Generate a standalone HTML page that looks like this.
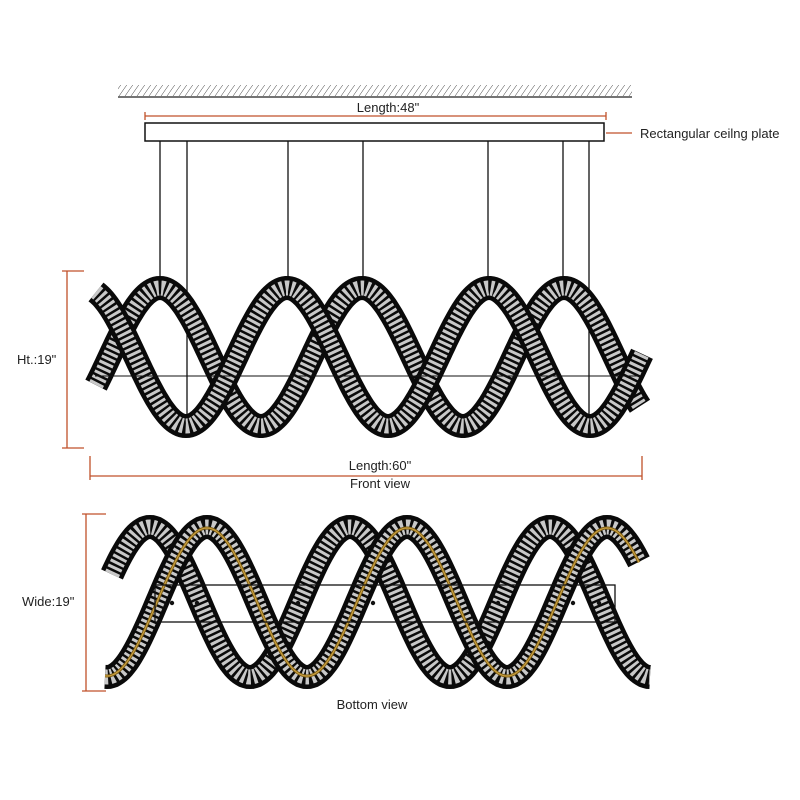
<!DOCTYPE html>
<html><head><meta charset="utf-8"><style>
html,body{margin:0;padding:0;background:#fff;}
svg{display:block;}
text{font-family:"Liberation Sans",sans-serif;font-size:13px;fill:#222;}
</style></head><body>
<svg id="s" width="800" height="800" viewBox="0 0 800 800" xmlns="http://www.w3.org/2000/svg">
<defs>
<pattern id="h" width="6" height="12" patternUnits="userSpaceOnUse" patternTransform="skewX(-35)">
<line x1="0" y1="0" x2="0" y2="12" stroke="#333" stroke-width="1"/></pattern>
</defs>
<rect x="118" y="85" width="514" height="11" fill="url(#h)"/>
<line x1="118" y1="97" x2="632" y2="97" stroke="#222" stroke-width="1.2"/>
<g stroke="#c0502a" stroke-width="1.3" fill="none">
<line x1="145" y1="116" x2="606" y2="116"/>
<line x1="145" y1="112" x2="145" y2="120"/><line x1="606" y1="112" x2="606" y2="120"/>
<line x1="606" y1="133" x2="632" y2="133"/>
<line x1="67" y1="271" x2="67" y2="448"/>
<line x1="62" y1="271" x2="84" y2="271"/><line x1="62" y1="448" x2="84" y2="448"/>
<line x1="90" y1="476" x2="642" y2="476"/>
<line x1="90" y1="456" x2="90" y2="480"/><line x1="642" y1="456" x2="642" y2="480"/>
<line x1="86" y1="514" x2="86" y2="691"/>
<line x1="82" y1="514" x2="106" y2="514"/><line x1="82" y1="691" x2="106" y2="691"/>
</g>
<text x="388" y="112" text-anchor="middle">Length:48"</text>
<text x="640" y="138">Rectangular ceilng plate</text>
<text x="17" y="364">Ht.:19"</text>
<text x="380" y="470" text-anchor="middle">Length:60"</text>
<text x="380" y="488" text-anchor="middle">Front view</text>
<text x="22" y="606">Wide:19"</text>
<text x="372" y="709" text-anchor="middle">Bottom view</text>
<rect x="145" y="123" width="459" height="18" fill="#fff" stroke="#111" stroke-width="1.5"/>
<g stroke="#111" stroke-width="1.3">
<line x1="160" y1="141" x2="160" y2="278"/><line x1="187" y1="141" x2="187" y2="430"/>
<line x1="288" y1="141" x2="288" y2="278"/><line x1="363" y1="141" x2="363" y2="278"/>
<line x1="488" y1="141" x2="488" y2="278"/><line x1="563" y1="141" x2="563" y2="278"/>
<line x1="589" y1="141" x2="589" y2="430"/>
</g>
<g id="bands"></g>
<line x1="95" y1="376" x2="640" y2="376" stroke="#111" stroke-width="1"/>
<rect x="155" y="585" width="460" height="37" fill="none" stroke="#111" stroke-width="1.3"/>
<g fill="#111"><circle cx="172" cy="603" r="2.2"/><circle cx="197" cy="603" r="2.2"/><circle cx="298" cy="603" r="2.2"/><circle cx="373" cy="603" r="2.2"/><circle cx="498" cy="603" r="2.2"/><circle cx="573" cy="603" r="2.2"/><circle cx="599" cy="603" r="2.2"/></g>
</svg>
<script>
var g=document.getElementById('bands');var NS='http://www.w3.org/2000/svg';
function path(x0,x1,cy,amp,top,per){var d='';for(var x=x0;x<=x1;x+=2){var y=cy-amp*Math.cos(2*Math.PI*(x-top)/per);d+=(x==x0?'M':'L')+x+' '+y.toFixed(1);}return d;}
function mk(d,c,w,da){var a=document.createElementNS(NS,'path');a.setAttribute('d',d);a.setAttribute('fill','none');a.setAttribute('stroke',c);a.setAttribute('stroke-width',w);if(da)a.setAttribute('stroke-dasharray',da);a.setAttribute('stroke-linecap','butt');g.appendChild(a);}
function band(d){mk(d,'#0a0a0a',24);mk(d,'#c8c8c8',15,'3 2.5');}
// front view
band(path(96,640,357,69,160,202));
band(path(96,642,357,69,287,202));
// bottom view
band(path(112,650,602,75,150,200));
var bd=path(105,640,602,75,207,200);band(bd);
mk(path(105,640,602,74,207,200),'#7a5a12',3);
mk(path(105,640,602,74,207,200),'#c9a040',1.2);
</script>
</body></html>
